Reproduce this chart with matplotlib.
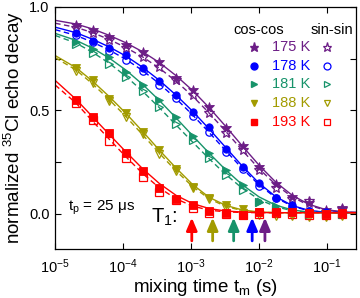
import matplotlib
matplotlib.use("Agg")
import matplotlib.pyplot as plt
import numpy as np

plt.rcParams["font.family"] = ["Liberation Sans", "DejaVu Sans"]
plt.rcParams["mathtext.fontset"] = "custom"
plt.rcParams["mathtext.rm"] = "Liberation Sans"
plt.rcParams["mathtext.it"] = "Liberation Sans"
plt.rcParams["mathtext.default"] = "regular"

# mixing times of the measured points (s)
t_data = [2.04e-5, 3.59e-5, 6.31e-5, 1.11e-4, 1.95e-4, 3.43e-4, 6.03e-4, 1.06e-3,
          1.86e-3, 3.27e-3, 5.75e-3, 1.01e-2, 1.78e-2, 3.13e-2, 5.5e-2, 9.66e-2, 0.17]
# sampling of the fit curves (s)
t_fit = [1.0e-5] + t_data + [0.32]

temps = ["175 K", "178 K", "181 K", "188 K", "193 K"]
colors = ["#6c1d86", "#0000ff", "#17936a", "#a29b00", "#ff0000"]
markers = ["*", "o", ">", "v", "s"]
T1 = [1.23e-2, 7.98e-3, 4.26e-3, 2.09e-3, 1.03e-3]

cos_175 = [0.913, 0.889, 0.854, 0.816, 0.784, 0.734, 0.657, 0.599, 0.515, 0.414,
           0.330, 0.228, 0.145, 0.084, 0.052, 0.019, 0.028]
sin_175 = [0.898, 0.874, 0.841, 0.802, 0.758, 0.710, 0.647, 0.575, 0.488, 0.391,
           0.309, 0.213, 0.126, 0.072, 0.063, 0.010, 0.024]
cos_178 = [0.873, 0.837, 0.803, 0.768, 0.704, 0.640, 0.576, 0.491, 0.418, 0.314,
           0.228, 0.148, 0.079, 0.043, 0.014, 0.008, 0.003]
sin_178 = [0.862, 0.828, 0.788, 0.745, 0.690, 0.625, 0.560, 0.475, 0.395, 0.300,
           0.215, 0.135, 0.075, 0.035, 0.012, 0.005, 0.000]
cos_181 = [0.832, 0.796, 0.757, 0.687, 0.623, 0.551, 0.470, 0.378, 0.293, 0.213,
           0.140, 0.057, 0.039, 0.010, 0.000, 0.000, 0.000]
sin_181 = [0.820, 0.775, 0.725, 0.660, 0.595, 0.515, 0.435, 0.357, 0.269, 0.188,
           0.115, 0.060, 0.025, 0.010, 0.000, 0.000, 0.000]
cos_188 = [0.704, 0.645, 0.557, 0.485, 0.396, 0.309, 0.217, 0.132, 0.079, 0.043,
           0.024, 0.010, 0.005, 0.000, 0.000, 0.000, 0.000]
sin_188 = [0.688, 0.630, 0.545, 0.470, 0.385, 0.290, 0.205, 0.125, 0.070, 0.030,
           0.005, -0.005, -0.010, -0.010, -0.013, -0.013, -0.010]
cos_193 = [0.551, 0.470, 0.390, 0.293, 0.208, 0.127, 0.070, 0.043, 0.014, 0.003,
           -0.005, 0.008, 0.011, 0.008, 0.005, 0.000, 0.003]
sin_193 = [0.538, 0.454, 0.353, 0.269, 0.180, 0.105, 0.065, 0.028, 0.003, 0.000,
           -0.005, 0.000, 0.003, 0.000, -0.005, -0.005, 0.000]

fit_cos_175 = [0.935, 0.917, 0.893, 0.862, 0.826, 0.783, 0.731, 0.668, 0.596, 0.513,
               0.422, 0.327, 0.235, 0.153, 0.089, 0.046, 0.021, 0.010, 0.007]
fit_sin_175 = [0.921, 0.901, 0.875, 0.842, 0.803, 0.758, 0.704, 0.641, 0.569, 0.487,
               0.398, 0.306, 0.218, 0.141, 0.081, 0.041, 0.018, 0.009, 0.006]
fit_cos_178 = [0.902, 0.875, 0.843, 0.806, 0.762, 0.708, 0.645, 0.574, 0.496, 0.410,
               0.320, 0.230, 0.148, 0.083, 0.040, 0.017, 0.008, 0.006, 0.006]
fit_sin_178 = [0.890, 0.862, 0.829, 0.791, 0.746, 0.692, 0.629, 0.557, 0.478, 0.393,
               0.305, 0.218, 0.140, 0.078, 0.037, 0.015, 0.007, 0.006, 0.006]
fit_cos_181 = [0.872, 0.838, 0.800, 0.752, 0.694, 0.625, 0.548, 0.464, 0.378, 0.293,
               0.212, 0.140, 0.082, 0.042, 0.019, 0.009, 0.006, 0.006, 0.006]
fit_sin_181 = [0.862, 0.825, 0.780, 0.727, 0.664, 0.592, 0.513, 0.430, 0.347, 0.266,
               0.190, 0.123, 0.070, 0.035, 0.015, 0.008, 0.006, 0.006, 0.006]
fit_cos_188 = [0.765, 0.706, 0.640, 0.566, 0.485, 0.398, 0.308, 0.222, 0.142, 0.080,
               0.041, 0.019, 0.009, 0.006, 0.006, 0.006, 0.006, 0.006, 0.006]
fit_sin_188 = [0.755, 0.695, 0.627, 0.551, 0.469, 0.382, 0.293, 0.208, 0.132, 0.073,
               0.036, 0.016, 0.008, 0.006, 0.006, 0.006, 0.006, 0.006, 0.006]
fit_cos_193 = [0.645, 0.553, 0.468, 0.383, 0.299, 0.218, 0.147, 0.090, 0.050, 0.026,
               0.014, 0.009, 0.007, 0.006, 0.006, 0.006, 0.006, 0.006, 0.006]
fit_sin_193 = [0.623, 0.535, 0.447, 0.360, 0.275, 0.195, 0.126, 0.073, 0.038, 0.018,
               0.010, 0.007, 0.006, 0.006, 0.006, 0.006, 0.006, 0.006, 0.006]

cos_data = [cos_175, cos_178, cos_181, cos_188, cos_193]
sin_data = [sin_175, sin_178, sin_181, sin_188, sin_193]
cos_fits = [fit_cos_175, fit_cos_178, fit_cos_181, fit_cos_188, fit_cos_193]
sin_fits = [fit_sin_175, fit_sin_178, fit_sin_181, fit_sin_188, fit_sin_193]

fig = plt.figure(figsize=(3.6, 2.98), dpi=100)
ax = fig.add_axes([0.153, 0.164, 0.836, 0.813])

for i in range(len(temps)):
    c = colors[i]
    ms = 7.0 if markers[i] == "*" else 5.3
    ax.plot(t_fit, cos_fits[i], "-", color=c, lw=1.0, zorder=2)
    ax.plot(t_fit, sin_fits[i], "--", color=c, lw=1.0, dashes=(4, 2.5), zorder=2)
    ax.plot(t_data, sin_data[i], ls="none", marker=markers[i], ms=ms, mfc="none",
            mec=c, mew=0.9, zorder=3)
    ax.plot(t_data, cos_data[i], ls="none", marker=markers[i], ms=ms, mfc=c,
            mec=c, mew=0.6, zorder=4)
    ax.annotate("", xy=(T1[i], -0.018), xytext=(T1[i], -0.13),
                arrowprops=dict(arrowstyle="-|>,head_length=0.75,head_width=0.32",
                                color=c, lw=2.0, shrinkA=0, shrinkB=0))

ax.set_xscale("log")
ax.set_xlim(1e-5, 0.27)
ax.set_ylim(-0.17, 1.0)
ax.set_xticks([1e-5, 1e-4, 1e-3, 1e-2, 1e-1])
ax.xaxis.set_minor_locator(matplotlib.ticker.NullLocator())
ax.set_yticks([0.0, 0.25, 0.5, 0.75, 1.0])
ax.set_yticklabels(["0.0", "", "0.5", "", "1.0"])
ax.tick_params(direction="in", top=True, right=True, length=4, width=0.8,
               labelsize=10.5, pad=4)
ax.tick_params(axis="x", pad=6)
for s in ax.spines.values():
    s.set_linewidth(0.9)

ax.set_xlabel("mixing time t$_m$ (s)", fontsize=13.5, labelpad=1)
ax.set_ylabel("normalized $^{35}$Cl echo decay", fontsize=13.5, labelpad=2)

ax.text(0.043, 0.172, "t$_p$ = 25 $\\mu$s", transform=ax.transAxes, fontsize=11,
        va="center", ha="left")
ax.text(0.32, 0.13, "T$_1$:", transform=ax.transAxes, fontsize=14.5,
        va="center", ha="left")

# legend built by hand: filled marker, coloured label, open marker
ax.text(0.676, 0.905, "cos-cos", transform=ax.transAxes, fontsize=10.5,
        ha="center", va="center")
ax.text(0.919, 0.905, "sin-sin", transform=ax.transAxes, fontsize=10.5,
        ha="center", va="center")
rows = [0.835, 0.757, 0.681, 0.603, 0.525]
for i in range(len(temps)):
    ms = 6.5 if markers[i] == "*" else 5.0
    ax.plot([0.661], [rows[i]], marker=markers[i], ms=ms, mfc=colors[i],
            mec=colors[i], transform=ax.transAxes, ls="none")
    ax.plot([0.904], [rows[i]], marker=markers[i], ms=ms, mfc="none",
            mec=colors[i], mew=0.9, transform=ax.transAxes, ls="none")
    ax.text(0.72, rows[i], temps[i], transform=ax.transAxes, fontsize=10.5,
            color=colors[i], ha="left", va="center")

fig.savefig("out.png", dpi=100)
